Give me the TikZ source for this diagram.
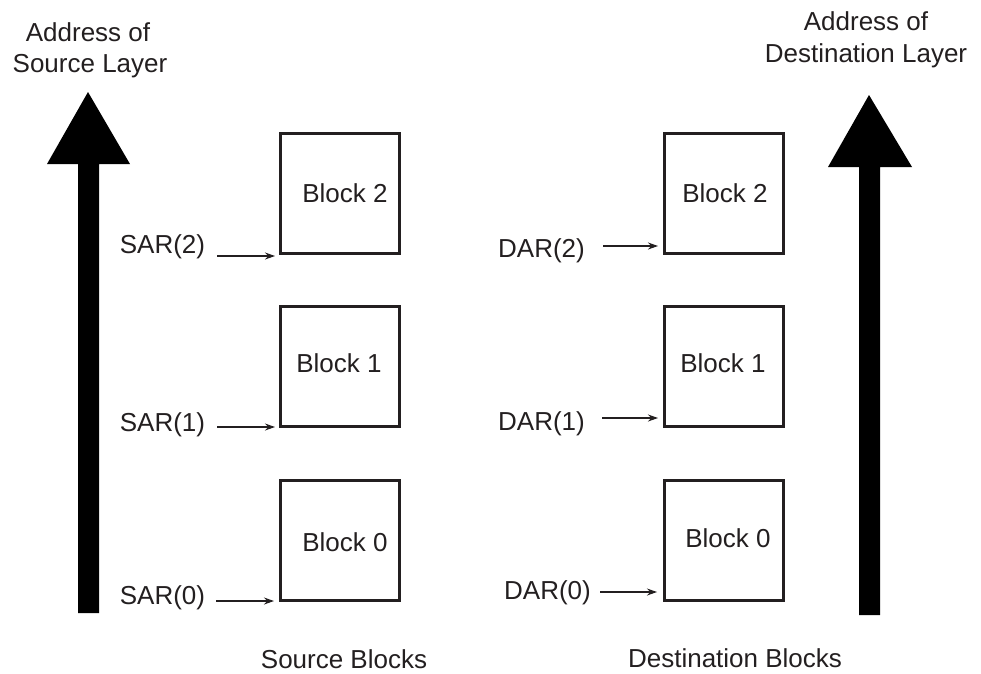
\documentclass[tikz,border=0pt]{standalone}
\usepackage{fontspec}
\setmainfont{Liberation Sans}
\usetikzlibrary{arrows.meta}
\definecolor{ink}{HTML}{231F20}
\begin{document}
\begin{tikzpicture}[x=1pt,y=-1pt,
  lbl/.style={inner sep=0pt, text=ink, font=\fontsize{26}{31}\selectfont, text height=18.6pt, text depth=0pt},
  blk/.style={draw=ink, line width=3pt, minimum width=119pt, minimum height=120pt, inner sep=0pt},
  ptr/.style={draw=ink, line width=1.1pt, -{Stealth[length=10pt,width=7pt]}},
  bigarrow/.style={fill=black}]
\useasboundingbox (0,0) rectangle (981,673);

% big arrows
\coordinate (lt) at (88,92);
\coordinate (rt) at (869,95);
\fill[bigarrow] (lt) -- (130,164) -- (99,164) -- (99,613) -- (78,613) -- (78,164) -- (47,164) -- cycle;
\fill[bigarrow] (rt) -- (912,167) -- (880,167) -- (880,615) -- (859,615) -- (859,167) -- (828,167) -- cycle;

% titles
\node[lbl] (tl1) at (88,32) {Address of};
\node[lbl] (tl2) at (90,63) {Source Layer};
\node[lbl] (tr1) at (866,21) {Address of};
\node[lbl] (tr2) at (866,53) {Destination Layer};

% source blocks
\node[blk] (s2) at (339.5,193) {};
\node[blk] (s1) at (339.5,366) {};
\node[blk] (s0) at (339.5,540) {};
\node[lbl] (s2t) at (345,193) {Block 2};
\node[lbl] (s1t) at (339,363) {Block 1};
\node[lbl] (s0t) at (345,542) {Block 0};

% destination blocks
\node[blk] (d2) at (723.5,193) {};
\node[blk] (d1) at (723.5,366) {};
\node[blk] (d0) at (723.5,540) {};
\node[lbl] (d2t) at (725,193) {Block 2};
\node[lbl] (d1t) at (723,363) {Block 1};
\node[lbl] (d0t) at (728,538) {Block 0};

% address labels
\node[lbl] (sar2) at (162.5,244) {SAR(2)};
\node[lbl] (sar1) at (162.5,422) {SAR(1)};
\node[lbl] (sar0) at (162.5,595) {SAR(0)};
\node[lbl] (dar2) at (541.5,248) {DAR(2)};
\node[lbl] (dar1) at (541.5,421) {DAR(1)};
\node[lbl] (dar0) at (547.5,590) {DAR(0)};

% pointer arrows
\coordinate (sa2) at (217,256); \coordinate (sa2e) at (275,256);
\coordinate (sa1) at (217,427); \coordinate (sa1e) at (275,427);
\coordinate (sa0) at (216,601); \coordinate (sa0e) at (274,601);
\coordinate (da2) at (603,246); \coordinate (da2e) at (658,246);
\coordinate (da1) at (602,418); \coordinate (da1e) at (658,418);
\coordinate (da0) at (600,592); \coordinate (da0e) at (657,592);
\draw[ptr] (sa2) -- (sa2e);
\draw[ptr] (sa1) -- (sa1e);
\draw[ptr] (sa0) -- (sa0e);
\draw[ptr] (da2) -- (da2e);
\draw[ptr] (da1) -- (da1e);
\draw[ptr] (da0) -- (da0e);

% captions
\node[lbl] (capS) at (344,659) {Source Blocks};
\node[lbl] (capD) at (735,658) {Destination Blocks};
\end{tikzpicture}
\end{document}
